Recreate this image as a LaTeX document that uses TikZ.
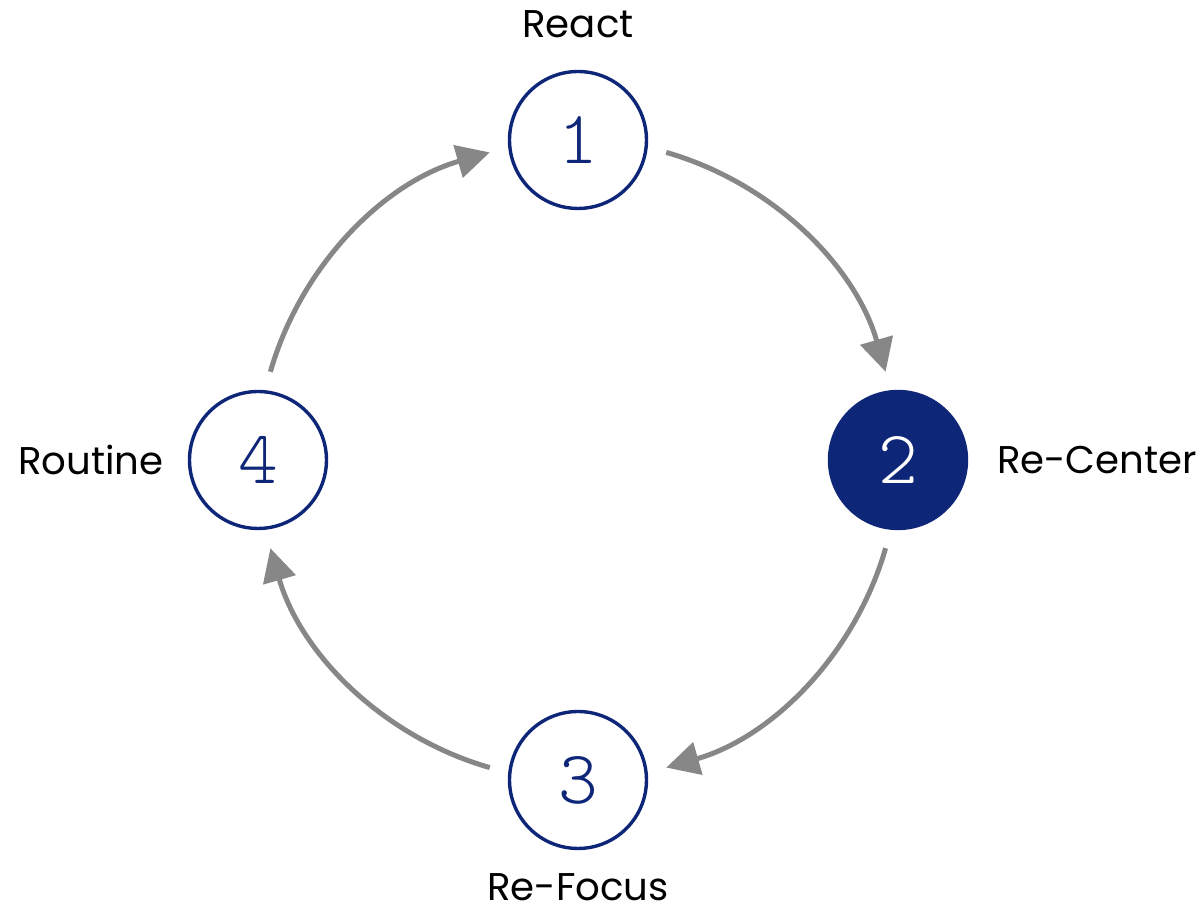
\documentclass[tikz,border=0pt]{standalone}
\usepackage{fontspec}
\setmainfont{Poppins}
\newfontfamily\digitfont{Latin Modern Mono Light}
\usetikzlibrary{arrows.meta,calc}

\definecolor{navy}{HTML}{0E2677}
\definecolor{flowgray}{HTML}{878787}

\begin{document}
\begin{tikzpicture}[
	x=0.02cm, y=0.02cm,
	step circle/.style={circle,draw=navy,line width=0.068cm,minimum size=2.74cm,inner sep=0pt,
		text=navy,font=\digitfont\fontsize{43}{43}\selectfont},
	active/.style={fill=navy,text=white},
	lbl/.style={font=\fontsize{22}{26}\selectfont,inner sep=0pt},
	flow/.style={draw=flowgray,line width=0.1cm,-{Triangle[length=0.66cm,width=0.66cm]}}
]

	\useasboundingbox (-578,-451) rectangle (626,460);

	\coordinate (ctr) at (0,0);

	\node[step circle] at (90:320) (n1) {1};
	\node[step circle,active] at (0:320) (n2) {2};
	\node[step circle] at (270:320) (n3) {3};
	\node[step circle] at (180:320) (n4) {4};

	\node[lbl] at (0,436) (l1) {React};
	\node[lbl] at (519,0) (l2) {Re-Center};
	\node[lbl] at (0,-427) (l3) {Re-Focus};
	\node[lbl] at (-487,0) (l4) {Routine};

	% arcs round the cycle, each leaving a node 16 degrees on
	\draw[flow] ($(ctr)!1!-16:(n1)$) arc[start angle=74, end angle=16, radius=320];
	\draw[flow] ($(ctr)!1!-16:(n2)$) arc[start angle=-16, end angle=-74, radius=320];
	\draw[flow] ($(ctr)!1!-16:(n3)$) arc[start angle=254, end angle=196, radius=320];
	\draw[flow] ($(ctr)!1!-16:(n4)$) arc[start angle=164, end angle=106, radius=320];

\end{tikzpicture}
\end{document}
